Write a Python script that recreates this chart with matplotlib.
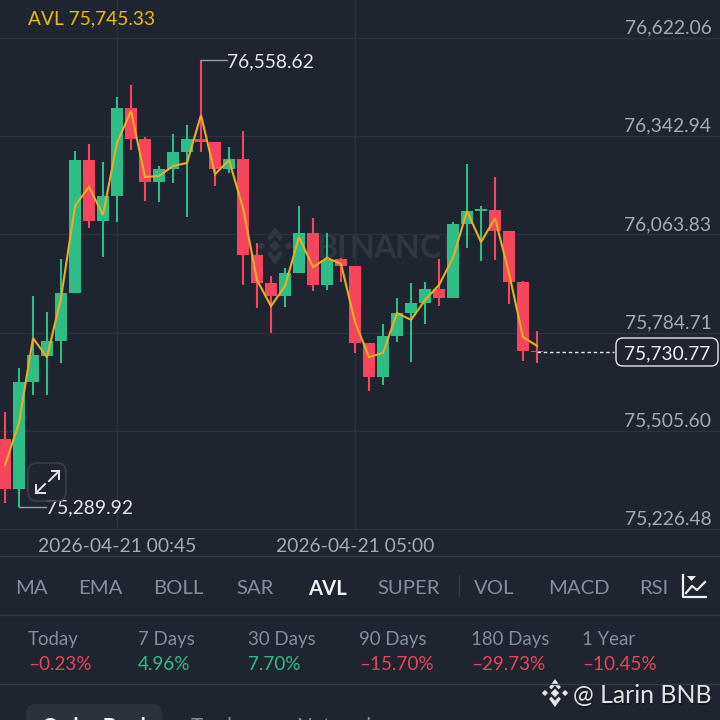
import numpy as np
import matplotlib
matplotlib.use("Agg")
import matplotlib.pyplot as plt
from matplotlib.patches import FancyBboxPatch, Polygon, Rectangle

plt.rcParams['font.family'] = ['Lato', 'DejaVu Sans']

# candles
opens = [75482, 75340, 75644, 75718, 75761, 75897, 76275, 76102, 76173, 76423,
         76335, 76213, 76250, 76298, 76335, 76326, 76250, 76278, 76005, 75926,
         75889, 75954, 76068, 75920, 75994, 75974, 75755, 75659, 75775, 75840,
         75869, 75909, 75883, 76093, 76130, 76133, 76073, 75929, 75732]
highs = [75559, 75684, 75889, 75843, 75994, 76301, 76321, 76270, 76454, 76488,
         76341, 76258, 76349, 76375, 76558.62, 76326, 76312, 76358, 76039, 75946,
         75968, 76145, 76110, 76068, 75997, 75974, 75755, 75809, 75883, 75926,
         75929, 75994, 76099, 76264, 76145, 76227, 76073, 75931, 75789]
lows = [75300, 75289.92, 75607, 75607, 75698, 75897, 76082, 76000, 76099, 76304,
        76159, 76156, 76210, 76113, 76298, 76201, 76238, 75920, 75855, 75784,
        75857, 75954, 75903, 75906, 75929, 75727, 75619, 75636, 75758, 75701,
        75809, 75860, 75883, 76025, 75988, 75991, 75866, 75704, 75698]
closes = [75340, 75644, 75721, 75761, 75897, 76275, 76102, 76173, 76423, 76335,
          76213, 76250, 76298, 76335, 76326, 76250, 76278, 76005, 75926, 75889,
          75954, 76068, 75920, 75991, 75974, 75755, 75659, 75775, 75840, 75869,
          75909, 75883, 76093, 76130, 76136, 76073, 75929, 75732, 75730.77]
avl = [75408, 75528, 75769, 75715, 75883, 76145, 76199, 76119, 76324, 76415,
       76227, 76230, 76258, 76267, 76403, 76235, 76275, 76139, 75934, 75860,
       75917, 76056, 75971, 75997, 75980, 75815, 75715, 75727, 75840, 75821,
       75877, 75920, 75997, 76130, 76042, 76110, 75954, 75772, 75747]

price_ticks = [76622.06, 76342.94, 76063.83, 75784.71, 75505.60, 75226.48]
time_ticks = [8, 25]
time_labels = ['2026-04-21 00:45', '2026-04-21 05:00']
high_label, low_label, last_label = '76,558.62', '75,289.92', '75,730.77'
avl_label = 'AVL 75,745.33'

tabs = ['MA', 'EMA', 'BOLL', 'SAR', 'AVL', 'SUPER', 'VOL', 'MACD', 'RSI']
tab_x = [15, 78, 153, 236, 308, 377, 474, 548, 639]
periods = ['Today', '7 Days', '30 Days', '90 Days', '180 Days', '1 Year']
changes = [-0.23, 4.96, 7.70, -15.70, -29.73, -10.45]
period_x = [28, 138, 248, 359, 471, 582]

BG = '#1e2530'
GRID = '#2c333e'
GREEN = '#2ebd85'
RED = '#f6465d'
YELLOW = '#e8ae24'
GREY = '#848e9c'
LABEL = '#a3abb6'
MARK = '#303741'

fig = plt.figure(figsize=(7.2, 7.2), dpi=100, facecolor=BG)


def pixel_axes(zorder):
    a = fig.add_axes([0, 0, 1, 1], facecolor='none', zorder=zorder)
    a.set_xlim(0, 720)
    a.set_ylim(720, 0)
    a.axis('off')
    return a


def diamond(target, x, y, r, color):
    target.add_patch(Polygon([(x - r, y), (x, y - r), (x + r, y), (x, y + r)], closed=True,
                             color=color, lw=0))


def logo(target, x, y, s, color):
    diamond(target, x, y, s * 0.3, color)
    for dx in (-1, 1):
        diamond(target, x + dx * s * 0.72, y, s * 0.22, color)
    for dy in (-1, 1):
        target.add_patch(Polygon([(x - s * 0.42, y + dy * s * 0.42), (x, y + dy * s),
                                  (x + s * 0.42, y + dy * s * 0.42), (x + s * 0.26, y + dy * s * 0.26),
                                  (x, y + dy * s * 0.55), (x - s * 0.26, y + dy * s * 0.26)],
                                 closed=True, color=color, lw=0))


# watermark sits under the candles, letters spaced out by hand
under = pixel_axes(0)
logo(under, 275, 246, 19, MARK)
for ch, x in zip('BINANCE', [327, 341, 362, 384, 407, 430, 452]):
    under.text(x, 246, ch, color=MARK, fontsize=23, fontweight='bold', ha='center',
               va='center_baseline')

# main chart, top 556 px of the figure
ax = fig.add_axes([0, 1 - 556 / 720, 1, 556 / 720], facecolor='none', zorder=1)
px_per_candle = 14
ax.set_xlim(-5 / px_per_candle, 715 / px_per_candle)
ax.set_ylim(75149.75, 76730.07)
ax.axis('off')

for p in price_ticks:
    ax.axhline(p, color=GRID, lw=1, zorder=1)
    ax.annotate(f'{p:,.2f}', (1, p), xycoords=('axes fraction', 'data'), xytext=(-6.2, 1),
                textcoords='offset points', ha='right', va='bottom', color=LABEL, fontsize=13.9)
for t, lab in zip(time_ticks, time_labels):
    ax.plot([t, t], [price_ticks[-1], 76730.07], color=GRID, lw=1, zorder=1)
    ax.annotate(lab, (t, 0), xycoords=('data', 'axes fraction'), xytext=(0, 0.5),
                textcoords='offset points', ha='center', va='bottom', color=LABEL, fontsize=13.9)

xs = np.arange(len(opens))
for i in xs:
    col = GREEN if closes[i] >= opens[i] else RED
    ax.plot([i, i], [lows[i], highs[i]], color=col, lw=1.5, zorder=3, solid_capstyle='butt')
    b = min(opens[i], closes[i])
    h = max(abs(closes[i] - opens[i]), 3)
    ax.bar(i, h, bottom=b, width=0.9, color=col, zorder=3, linewidth=0)

ax.plot(xs, avl, color=YELLOW, lw=1.5, zorder=4, solid_joinstyle='miter')

# high / low markers
hi = int(np.argmax(highs))
lo = int(np.argmin(lows))
ax.plot([hi, hi + 1.85], [highs[hi]] * 2, color='#9aa1ab', lw=1, zorder=5)
ax.text(hi + 1.87, highs[hi], high_label, color='#e6e8ea', fontsize=13.9, va='center_baseline', zorder=5)
ax.plot([lo, lo + 1.9], [lows[lo]] * 2, color='#9aa1ab', lw=1, zorder=5)
ax.text(lo + 1.92, lows[lo], low_label, color='#e6e8ea', fontsize=13.9, va='center_baseline', zorder=5)

# last price line
ax.plot([len(opens) - 1, 43.5], [closes[-1]] * 2, color='#e6e8ea', lw=1, ls=(0, (2.5, 2)), zorder=5)

# app chrome on top, pixel coordinates
ui = pixel_axes(5)

ui.text(28, 17.5, avl_label, color='#f0b90b', fontsize=13.8, va='center_baseline')

ui.add_patch(FancyBboxPatch((616, 338), 102, 28, boxstyle='round,pad=0,rounding_size=7',
                            fc=BG, ec='#e6e8ea', lw=1))
ui.text(667, 352, last_label, color='#f0f1f2', fontsize=13.8, ha='center', va='center_baseline')

# expand button
ui.add_patch(FancyBboxPatch((28, 463), 38, 38, boxstyle='round,pad=0,rounding_size=9',
                            fc='none', ec='#39404b', lw=1.2))
for line in ([(36, 493), (45, 484)], [(36, 485), (36, 493), (45, 493)],
             [(59, 471), (49, 481)], [(52, 471), (59, 471), (59, 479)]):
    ui.plot(*zip(*line), color='#e6e8ea', lw=1.4)

# separators
for y in (556, 615, 684):
    ui.plot([0, 720], [y, y], color='#333a45', lw=1)
ui.plot([458.5, 458.5], [575, 596], color='#333a45', lw=1)

for lab, x in zip(tabs, tab_x):
    active = lab == 'AVL'
    ui.text(x, 587, lab, color='#f2f3f4' if active else GREY, fontsize=14.6,
            fontweight='bold' if active else 'normal', va='center_baseline')
# RSI fades out towards the icon
ui.add_patch(Rectangle((660, 572), 4, 30, fc=BG, ec='none', alpha=0.4))
ui.add_patch(Rectangle((664, 572), 14, 30, fc=BG, ec='none', alpha=0.75))

# chart icon
ui.plot([683, 683, 706], [575, 597, 597], color='#eef0f2', lw=1.6)
ui.plot([686, 692, 697, 705], [593, 586, 590, 582], color='#eef0f2', lw=1.6)
ui.add_patch(Polygon([(687, 576), (696, 576), (691.5, 581)], closed=True, color='#eef0f2', lw=0))

for lab, x, c in zip(periods, period_x, changes):
    ui.text(x, 638, lab, color=GREY, fontsize=13.4, va='center_baseline')
    txt = f'{c:.2f}%'.replace('-', '\u2013')
    ui.text(x, 663, txt, color='#2ebd85' if c > 0 else '#e8445a', fontsize=13.6, va='center_baseline')

# bottom tabs, cut by the edge of the screenshot
ui.add_patch(FancyBboxPatch((26, 704), 136, 40, boxstyle='round,pad=0,rounding_size=10',
                            fc='#2b323d', ec='none'))
ui.text(42, 725, 'Order Book', color='#f2f3f4', fontsize=15, fontweight='bold', va='center_baseline')
ui.text(191, 725, 'Trades', color=GREY, fontsize=15, va='center_baseline')
ui.text(296, 725, 'Network', color=GREY, fontsize=15, va='center_baseline')

# corner watermark
logo(ui, 555, 693, 14, '#e6e8ea')
ui.text(574, 695, '@ Larin BNB', color='#0d1015', alpha=0.6, fontsize=17.9, va='center_baseline')
ui.text(573, 694, '@ Larin BNB', color='#dfe2e5', fontsize=17.9, va='center_baseline')

fig.savefig('out.png', dpi=100, facecolor=BG)
